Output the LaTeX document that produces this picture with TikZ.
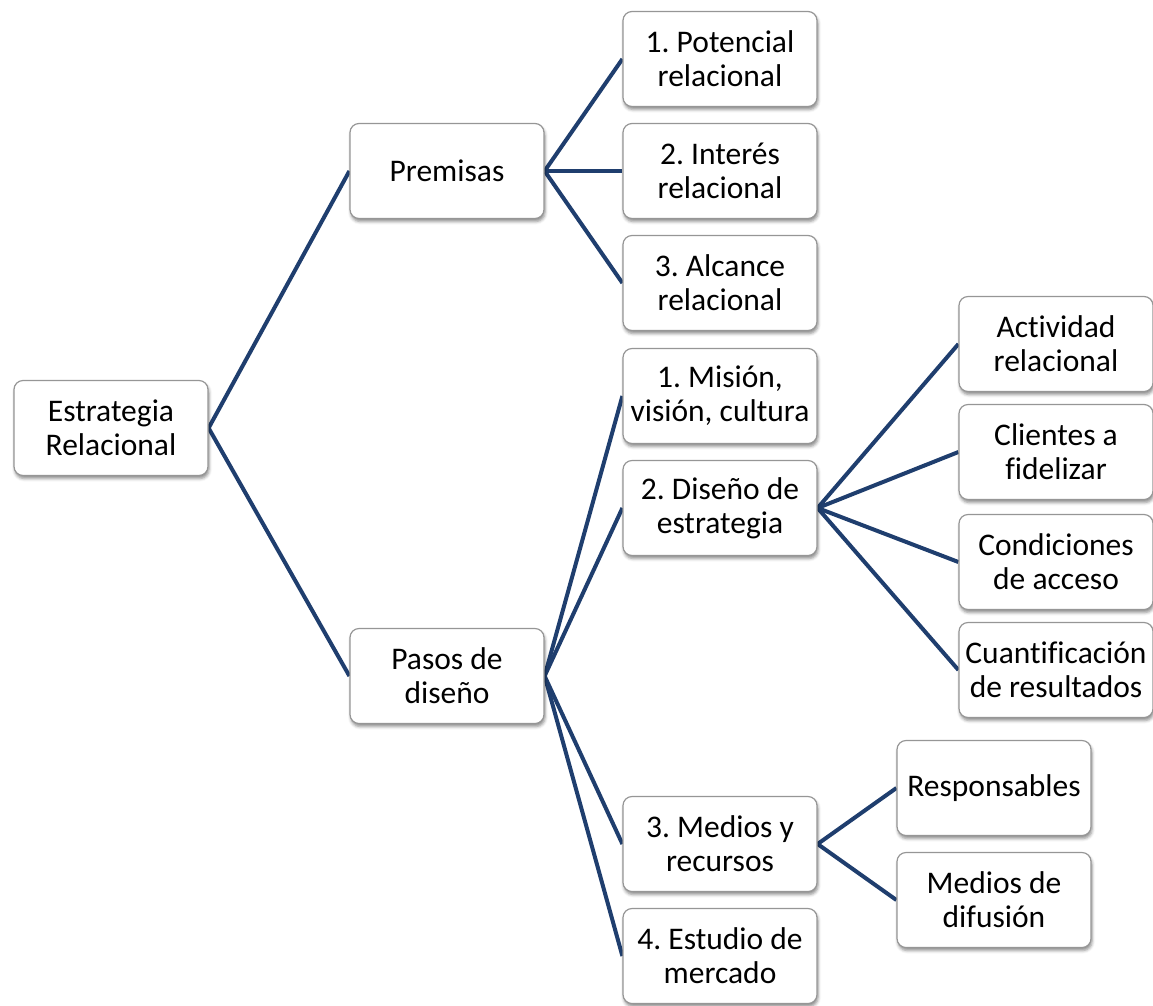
\documentclass[tikz,border=0pt]{standalone}
\usepackage{fontspec}
\setmainfont[Ligatures=CommonOff]{Carlito}
\frenchspacing
\usetikzlibrary{shadows.blur,backgrounds}
\definecolor{linkblue}{RGB}{31,62,110}
\definecolor{boxline}{RGB}{150,150,150}
\tikzset{
  box/.style={draw=boxline, line width=1.2pt, fill=white, rounded corners=9pt,
    minimum width=194pt, minimum height=95pt, inner sep=0pt, align=center,
    font=\fontsize{31.5}{34}\selectfont,
    blur shadow={shadow xshift=1pt, shadow yshift=-3pt, shadow blur radius=3pt, shadow opacity=45}},
  conn/.style={draw=linkblue, line width=4pt}
}
\begin{document}
\begin{tikzpicture}[x=1pt,y=-1pt]
\useasboundingbox (0,0) rectangle (1153,1005);
% root and first level
\node[box] (root)  at (111,428) {Estrategia\\Relacional};
\node[box] (prem)  at (447,171) {Premisas};
\node[box] (pasos) at (447,676) {Pasos de\\diseño};
% premises
\node[box] (p1) at (720,59)  {1. Potencial\\relacional};
\node[box] (p2) at (720,171) {2. Interés\\relacional};
\node[box] (p3) at (720,283) {3. Alcance\\relacional};
% design steps
\node[box] (d1) at (720,396) {1. Misión,\\visión, cultura};
\node[box] (d2) at (720,508) {2. Diseño de\\estrategia};
\node[box] (d3) at (720,844) {3. Medios y\\recursos};
\node[box] (d4) at (720,956) {4. Estudio de\\mercado};
% strategy design details
\node[box] (a1) at (1056,344) {Actividad\\relacional};
\node[box] (a2) at (1056,452) {Clientes a\\fidelizar};
\node[box] (a3) at (1056,562) {Condiciones\\de acceso};
\node[box] (a4) at (1056,670) {Cuantificación\\de resultados};
% means and resources
\node[box] (m1) at (994,788) {Responsables};
\node[box] (m2) at (994,900) {Medios de\\difusión};
% connectors
\begin{scope}[on background layer]
\draw[conn] (root.east) -- (prem.west);
\draw[conn] (root.east) -- (pasos.west);
\foreach \c in {p1,p2,p3} \draw[conn] (prem.east) -- (\c.west);
\foreach \c in {d1,d2,d3,d4} \draw[conn] (pasos.east) -- (\c.west);
\foreach \c in {a1,a2,a3,a4} \draw[conn] (d2.east) -- (\c.west);
\foreach \c in {m1,m2} \draw[conn] (d3.east) -- (\c.west);
\end{scope}
\end{tikzpicture}
\end{document}
